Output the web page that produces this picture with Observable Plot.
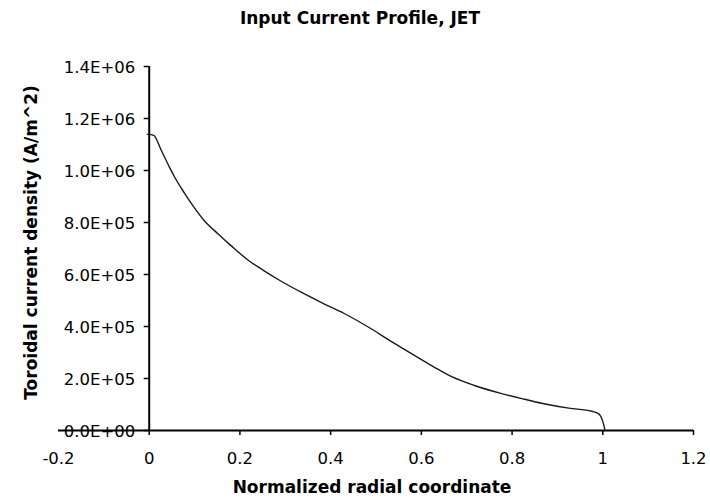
<!DOCTYPE html>
<html>
<head>
<meta charset="utf-8">
<script src="https://cdn.jsdelivr.net/npm/d3@7"></script>
<script src="https://cdn.jsdelivr.net/npm/@observablehq/plot@0.6"></script>
<style>
  html, body { margin: 0; padding: 0; background: #fff; }
  #title { width: 710px; height: 36px; line-height: 36px; text-align: center; padding-left: 10px; box-sizing: border-box;
           font-family: "DejaVu Sans", Verdana, sans-serif; font-weight: bold; font-size: 17px; color: #000; }
  #chart svg { display: block; }
</style>
</head>
<body>
<div id="title">Input Current Profile, JET</div>
<div id="chart"></div>
<script>
// Normalized radial coordinate
const rho = [-0.004, 0.01, 0.026, 0.044, 0.055, 0.077, 0.099, 0.121, 0.152, 0.181, 0.219, 0.25, 0.29, 0.336, 0.38, 0.43, 0.483, 0.534, 0.578, 0.629, 0.667, 0.717, 0.777, 0.828, 0.865, 0.925, 0.976, 0.991, 1.0, 1.005];
// Toroidal current density (A/m^2)
const jphi = [1.14e6, 1.135e6, 1.08e6, 1.015e6, 0.978e6, 0.915e6, 0.858e6, 0.808e6, 0.756e6, 0.71e6, 0.654e6, 0.618e6, 0.575e6, 0.531e6, 0.492e6, 0.45e6, 0.398e6, 0.342e6, 0.296e6, 0.243e6, 0.207e6, 0.173e6, 0.142e6, 0.12e6, 0.105e6, 0.086e6, 0.074e6, 0.064e6, 0.035e6, 0];

const xTicks = [-0.2, 0, 0.2, 0.4, 0.6, 0.8, 1, 1.2];
const xTickLabels = ["-0.2", "0", "0.2", "0.4", "0.6", "0.8", "1", "1.2"];
const yTicks = [0, 2e5, 4e5, 6e5, 8e5, 1e6, 1.2e6, 1.4e6];
const yTickLabels = ["0.0E+00", "2.0E+05", "4.0E+05", "6.0E+05", "8.0E+05", "1.0E+06", "1.2E+06", "1.4E+06"];

const xLabel = "Normalized radial coordinate";
const yLabel = "Toroidal current density (A/m^2)";

const W = 710, H = 466, mL = 58, mR = 17, mT = 30, mB = 72;
const xDomain = [-0.2, 1.2], yDomain = [0, 1.4e6];
const pxPerX = (W - mL - mR) / (xDomain[1] - xDomain[0]);
const pxPerY = (H - mT - mB) / (yDomain[1] - yDomain[0]);
const tickLen = 5;

const data = rho.map((r, i) => ({r, j: jphi[i]}));
const font = "DejaVu Sans, Verdana, sans-serif";

const chart = Plot.plot({
  width: W, height: H,
  marginLeft: mL, marginRight: mR, marginTop: mT, marginBottom: mB,
  x: {domain: xDomain, axis: null},
  y: {domain: yDomain, axis: null},
  style: {fontFamily: font, fontSize: "16.5px", color: "#000", background: "#fff", overflow: "visible"},
  marks: [
    // x axis line at y=0
    Plot.ruleY([0], {stroke: "#000", strokeWidth: 2}),
    // y axis line at x=0
    Plot.ruleX([0], {y1: yDomain[0], y2: yDomain[1], stroke: "#000", strokeWidth: 2}),
    // x tick marks (downward)
    Plot.ruleX(xTicks.filter(d => d >= 0), {x: d => d, y1: 0, y2: -tickLen / pxPerY, stroke: "#000", strokeWidth: 1.5}),
    // y tick marks (leftward)
    Plot.ruleY(yTicks, {y: d => d, x1: -tickLen / pxPerX, x2: 0, stroke: "#000", strokeWidth: 1.5}),
    // tick labels
    Plot.text(xTicks, {x: d => d, y: 0, text: (d, i) => xTickLabels[i], dy: 28, lineAnchor: "middle", fontSize: 16.5, fill: "#000"}),
    Plot.text(yTicks, {x: 0, y: d => d, text: (d, i) => yTickLabels[i], textAnchor: "end", dx: -14, dy: 1, lineAnchor: "middle", fontSize: 16.5, fill: "#000"}),
    // axis titles
    Plot.text([xLabel], {frameAnchor: "bottom", dy: 57, dx: -4, textAnchor: "middle", lineAnchor: "middle", fontWeight: "bold", fontSize: 17, fill: "#000"}),
    Plot.text([yLabel], {frameAnchor: "left", dx: -27, dy: -6, rotate: -90, textAnchor: "middle", lineAnchor: "middle", fontWeight: "bold", fontSize: 17, fill: "#000"}),
    // profile curve
    Plot.line(data, {x: "r", y: "j", stroke: "#1a1a1a", strokeWidth: 1.4, curve: "monotone-x"})
  ]
});
document.getElementById("chart").appendChild(chart);
</script>
</body>
</html>
